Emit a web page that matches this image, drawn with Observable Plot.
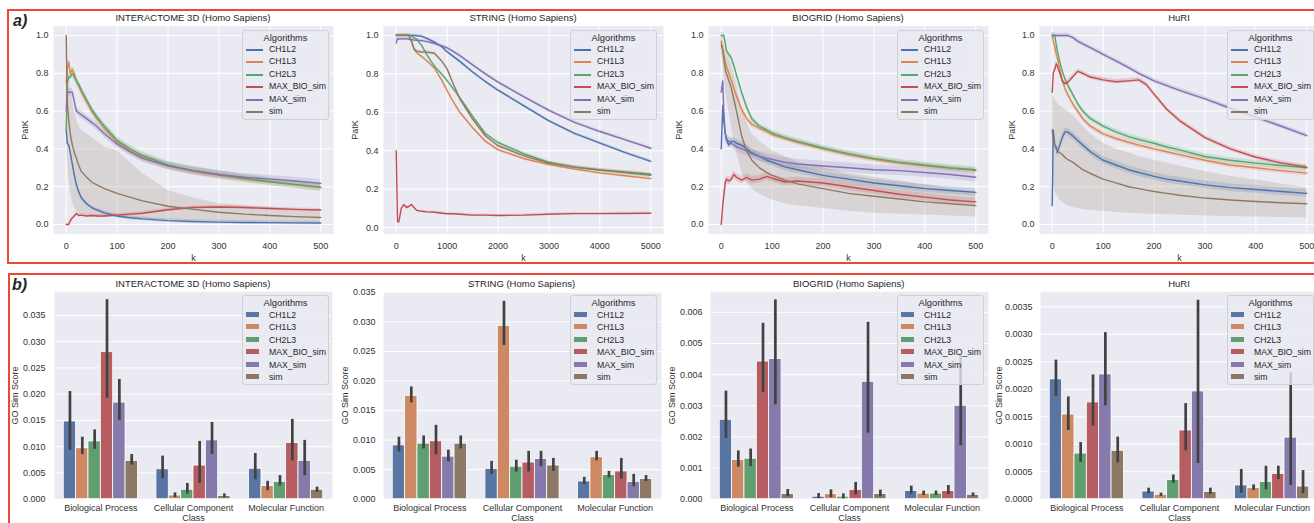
<!DOCTYPE html>
<html><head><meta charset="utf-8">
<script src="https://cdn.jsdelivr.net/npm/d3@7"></script>
<script src="https://cdn.jsdelivr.net/npm/@observablehq/plot@0.6"></script>
<style>
html,body{margin:0;padding:0;background:#fff;}
#root{position:relative;width:1314px;height:523px;overflow:hidden;font-family:"Liberation Sans",Arial,sans-serif;color:#262626;}
.panel{position:absolute;}
.panel svg{overflow:visible;max-width:none;display:block;}
.ttl{position:absolute;font-size:9.5px;text-align:center;white-space:nowrap;transform:translate(-50%,-50%);}
.box{position:absolute;border:2px solid #ea4a35;box-sizing:border-box;}
.tag{position:absolute;font-weight:bold;font-style:italic;font-size:16px;}
.leg{position:absolute;background:rgba(234,234,242,0.8);border:1px solid #cfcfd6;border-radius:3px;box-sizing:border-box;}
.leg .lt{position:absolute;left:0;right:0;text-align:center;font-size:9.3px;line-height:12px;}
.leg .li{position:absolute;left:26px;font-size:8.7px;line-height:12px;white-space:nowrap;}
.leg .lh{position:absolute;}
</style>
</head><body>
<div id="root"></div>
<script>
// ---------- shared ----------
const algorithms = ["CH1L2", "CH1L3", "CH2L3", "MAX_BIO_sim", "MAX_sim", "sim"];
const lineColors = ["#4c72b0", "#dd8452", "#55a868", "#c44e52", "#8172b3", "#937860"];
const barColors = ["#5975a4", "#cc8963", "#5f9e6e", "#b55d60", "#857aab", "#8d7866"];
const datasets = ["INTERACTOME 3D (Homo Sapiens)", "STRING (Homo Sapiens)", "BIOGRID (Homo Sapiens)", "HuRI"];
const categories = ["Biological Process", "Cellular Component", "Molecular Function"];

// ---------- a) PatK curves ----------
const patkYTicks = [0, 0.2, 0.4, 0.6, 0.8, 1.0];
const kTicks500 = [0, 100, 200, 300, 400, 500];
const kTicks5000 = [0, 1000, 2000, 3000, 4000, 5000];

// INTERACTOME 3D
const i3dK = [0,2,5,8,12,16,20,25,30,40,50,60,75,100,125,150,200,250,300,350,400,450,500];
const i3dPatK = [
  [0.5,0.43,0.42,0.38,0.32,0.26,0.21,0.17,0.14,0.11,0.09,0.078,0.062,0.045,0.036,0.03,0.021,0.016,0.013,0.011,0.01,0.009,0.008],
  [0.75,0.82,0.86,0.80,0.82,0.80,0.76,0.73,0.70,0.65,0.60,0.56,0.51,0.435,0.39,0.355,0.31,0.28,0.26,0.24,0.225,0.21,0.195],
  [0.5,0.75,0.78,0.78,0.80,0.78,0.76,0.74,0.71,0.66,0.61,0.57,0.52,0.445,0.40,0.365,0.315,0.285,0.265,0.245,0.228,0.212,0.198],
  [0,0,0,0.02,0.035,0.045,0.058,0.048,0.05,0.045,0.048,0.045,0.045,0.05,0.055,0.06,0.078,0.09,0.093,0.09,0.085,0.08,0.077],
  [0.6,0.7,0.7,0.7,0.7,0.65,0.6,0.59,0.58,0.56,0.54,0.52,0.48,0.425,0.385,0.35,0.31,0.285,0.265,0.25,0.24,0.23,0.218],
  [1.0,0.65,0.55,0.48,0.42,0.38,0.35,0.31,0.28,0.25,0.225,0.21,0.19,0.165,0.145,0.125,0.097,0.08,0.065,0.055,0.048,0.042,0.037]
];
const i3dSimLo = [0.6,0.35,0.25,0.18,0.12,0.09,0.07,0.06,0.055,0.05,0.045,0.04,0.04,0.04,0.035,0.03,0.025,0.02,0.017,0.015,0.013,0.012,0.01];
const i3dSimHi = [1.0,0.9,0.8,0.72,0.66,0.6,0.56,0.52,0.5,0.48,0.46,0.44,0.41,0.39,0.33,0.27,0.18,0.14,0.11,0.1,0.09,0.08,0.07];
const i3dBandHalf = [0.01,0.02,0.02,0.008,0.02,0];

// STRING
const strK = [0,25,50,100,150,200,250,300,350,400,500,600,750,900,1000,1100,1250,1500,1750,2000,2500,3000,3500,4000,4500,5000];
const strPatK = [
  [1,1,1,1,1,1,1,1,1,0.998,0.995,0.985,0.965,0.94,0.915,0.895,0.865,0.81,0.76,0.715,0.635,0.555,0.49,0.44,0.39,0.345],
  [1,1,1,1,1,1,1,0.97,0.93,0.91,0.89,0.868,0.83,0.765,0.713,0.665,0.6,0.52,0.45,0.405,0.36,0.328,0.305,0.285,0.27,0.255],
  [1,1,1,1,1,1,1,0.997,0.988,0.98,0.948,0.9,0.84,0.797,0.765,0.73,0.676,0.58,0.49,0.443,0.385,0.34,0.315,0.3,0.285,0.272],
  [0.4,0.03,0.03,0.1,0.12,0.105,0.11,0.12,0.105,0.09,0.085,0.082,0.08,0.075,0.072,0.072,0.07,0.065,0.065,0.063,0.065,0.07,0.073,0.073,0.074,0.075],
  [0.96,0.985,0.98,0.983,0.983,0.982,0.98,0.978,0.976,0.975,0.973,0.968,0.958,0.945,0.935,0.92,0.895,0.847,0.8,0.757,0.682,0.61,0.548,0.5,0.457,0.413],
  [1,1,1,1,1,1,1,0.97,0.93,0.918,0.913,0.913,0.907,0.865,0.826,0.76,0.67,0.565,0.478,0.426,0.375,0.335,0.315,0.3,0.29,0.278]
];
const strBandHalf = [0.008,0.008,0.008,0.006,0.008,0.008];

// BIOGRID
const bioK = [0,3,5,8,10,15,20,25,30,40,50,60,75,90,100,125,150,200,250,300,350,400,450,500];
const bioPatK = [
  [0.4,0.63,0.55,0.48,0.45,0.42,0.44,0.44,0.43,0.42,0.4,0.38,0.36,0.34,0.33,0.305,0.29,0.26,0.24,0.22,0.205,0.19,0.18,0.17],
  [0.97,0.93,0.9,0.86,0.84,0.8,0.76,0.72,0.68,0.61,0.56,0.53,0.51,0.49,0.475,0.455,0.435,0.4,0.37,0.345,0.325,0.31,0.297,0.285],
  [1.0,1.0,1.0,0.96,0.92,0.9,0.88,0.84,0.79,0.7,0.62,0.56,0.52,0.5,0.485,0.46,0.44,0.405,0.375,0.35,0.33,0.315,0.3,0.29],
  [0,0.1,0.15,0.22,0.24,0.23,0.24,0.265,0.25,0.235,0.25,0.235,0.24,0.255,0.245,0.225,0.23,0.22,0.2,0.18,0.16,0.145,0.13,0.12],
  [0.7,0.76,0.6,0.48,0.46,0.44,0.43,0.42,0.41,0.4,0.39,0.375,0.36,0.35,0.345,0.33,0.32,0.31,0.3,0.29,0.285,0.275,0.265,0.25],
  [0.95,0.92,0.88,0.82,0.8,0.76,0.72,0.66,0.6,0.47,0.39,0.34,0.3,0.275,0.26,0.235,0.215,0.19,0.165,0.15,0.135,0.12,0.11,0.1]
];
const bioSimLo = [0.9,0.85,0.8,0.72,0.68,0.6,0.52,0.45,0.38,0.28,0.22,0.19,0.16,0.14,0.13,0.11,0.1,0.085,0.07,0.06,0.055,0.05,0.045,0.04];
const bioSimHi = [1.0,0.98,0.96,0.92,0.9,0.88,0.85,0.8,0.74,0.62,0.54,0.48,0.44,0.41,0.39,0.36,0.33,0.3,0.27,0.25,0.23,0.21,0.19,0.175];
const bioBandHalf = [0.02,0.015,0.015,0.02,0.025,0];

// HuRI
const huriK = [0,2,5,8,10,15,20,25,30,40,50,60,75,100,125,150,170,185,200,225,250,300,350,400,450,500];
const huriPatK = [
  [0.1,0.5,0.42,0.41,0.38,0.42,0.46,0.49,0.49,0.47,0.445,0.42,0.385,0.34,0.315,0.29,0.275,0.265,0.255,0.24,0.23,0.21,0.195,0.185,0.175,0.165],
  [1.0,0.97,0.94,0.9,0.88,0.82,0.76,0.72,0.69,0.64,0.6,0.56,0.52,0.48,0.455,0.435,0.42,0.41,0.4,0.385,0.37,0.34,0.315,0.3,0.285,0.272],
  [1.0,1.0,1.0,0.95,0.92,0.86,0.81,0.77,0.74,0.69,0.64,0.6,0.56,0.52,0.49,0.465,0.45,0.44,0.43,0.41,0.395,0.36,0.34,0.325,0.312,0.3],
  [0.7,0.8,0.82,0.85,0.84,0.8,0.76,0.745,0.75,0.78,0.81,0.8,0.78,0.765,0.755,0.76,0.765,0.74,0.69,0.61,0.55,0.46,0.4,0.356,0.326,0.303],
  [1,1,1,1,1,1,1,1,1,0.99,0.97,0.955,0.935,0.9,0.865,0.83,0.8,0.78,0.76,0.735,0.71,0.665,0.615,0.568,0.52,0.47],
  [0.5,0.45,0.42,0.4,0.39,0.38,0.37,0.355,0.345,0.33,0.31,0.29,0.27,0.24,0.22,0.2,0.19,0.182,0.175,0.165,0.155,0.14,0.13,0.122,0.115,0.11]
];
const huriSimLo = [0.3,0.22,0.18,0.16,0.15,0.13,0.12,0.11,0.1,0.09,0.085,0.08,0.075,0.07,0.065,0.06,0.058,0.056,0.055,0.052,0.05,0.045,0.042,0.04,0.037,0.035];
const huriSimHi = [0.7,0.68,0.66,0.65,0.64,0.63,0.62,0.61,0.6,0.58,0.55,0.52,0.48,0.43,0.4,0.38,0.36,0.35,0.34,0.325,0.31,0.28,0.255,0.235,0.215,0.195];
const huriBandHalf = [0.02,0.015,0.015,0.012,0.012,0];

// ---------- b) GO Sim Score bars (rows: categories, cols: algorithms) ----------
const i3dGoMean = [[0.0148,0.0097,0.0110,0.0280,0.0184,0.0073],[0.0057,0.0007,0.0018,0.0064,0.0112,0.0006],[0.0058,0.0025,0.0033,0.0107,0.0073,0.0018]];
const i3dGoLo   = [[0.0093,0.0085,0.0095,0.0192,0.0150,0.0065],[0.0039,0.0003,0.0010,0.0030,0.0085,0.0003],[0.0037,0.0016,0.0025,0.0073,0.0045,0.0013]];
const i3dGoHi   = [[0.0205,0.0118,0.0132,0.0380,0.0228,0.0085],[0.0082,0.0012,0.0030,0.0110,0.0146,0.0010],[0.0087,0.0034,0.0045,0.0152,0.0112,0.0023]];
const strGoMean = [[0.0091,0.0175,0.0094,0.0098,0.0072,0.0094],[0.0051,0.0293,0.0055,0.0062,0.0068,0.0057],[0.0030,0.0071,0.0041,0.0047,0.0029,0.0034]];
const strGoLo   = [[0.0080,0.0163,0.0085,0.0075,0.0063,0.0085],[0.0042,0.0260,0.0046,0.0046,0.0055,0.0047],[0.0025,0.0065,0.0036,0.0034,0.0021,0.0030]];
const strGoHi   = [[0.0105,0.0190,0.0107,0.0125,0.0083,0.0107],[0.0064,0.0335,0.0066,0.0081,0.0081,0.0069],[0.0037,0.0081,0.0047,0.0069,0.0042,0.0040]];
const bioGoMean = [[0.00255,0.00126,0.00130,0.00442,0.00450,0.00017],[0.00008,0.00016,0.00008,0.00030,0.00377,0.00017],[0.00026,0.00018,0.00018,0.00026,0.00300,0.00014]];
const bioGoLo   = [[0.00195,0.00103,0.00105,0.00342,0.00303,0.00008],[0.00002,0.00005,0.00001,0.00014,0.00212,0.00008],[0.00016,0.00012,0.00012,0.00015,0.00172,0.00008]];
const bioGoHi   = [[0.00347,0.00155,0.00161,0.00565,0.00640,0.00031],[0.00018,0.00030,0.00017,0.00054,0.00568,0.00029],[0.00042,0.00026,0.00026,0.00044,0.00462,0.00020]];
const huriGoMean = [[0.00218,0.00154,0.00083,0.00176,0.00227,0.00088],[0.00014,0.00008,0.00035,0.00125,0.00196,0.00013],[0.00025,0.00020,0.00031,0.00046,0.00112,0.00023]];
const huriGoLo   = [[0.00187,0.00125,0.00067,0.00133,0.00170,0.00066],[0.00010,0.00005,0.00029,0.00088,0.00065,0.00009],[0.00011,0.00016,0.00017,0.00036,0.00025,0.00010]];
const huriGoHi   = [[0.00253,0.00186,0.00103,0.00226,0.00303,0.00113],[0.00020,0.00011,0.00044,0.00174,0.00362,0.00020],[0.00054,0.00026,0.00060,0.00060,0.00230,0.00052]];
const goTicksA = [0, 0.005, 0.010, 0.015, 0.020, 0.025, 0.030, 0.035];
const goTicksB = [0, 0.001, 0.002, 0.003, 0.004, 0.005, 0.006];
const goTicksC = [0, 0.0005, 0.0010, 0.0015, 0.0020, 0.0025, 0.0030, 0.0035];

// ---------- drawing ----------
const root = document.getElementById("root");
const FONT = '"Liberation Sans", Arial, sans-serif';
function el(tag, cls, css, text) {
  const d = document.createElement(tag);
  if (cls) d.className = cls;
  Object.assign(d.style, css || {});
  if (text != null) d.textContent = text;
  root.appendChild(d);
  return d;
}

// frames around a) and b)
el("div", "box", {left: "7px", top: "9px", width: "1330px", height: "255px"});
el("div", "box", {left: "8px", top: "273px", width: "1330px", height: "270px"});
el("div", "tag", {left: "13px", top: "12px"}, "a)");
el("div", "tag", {left: "12px", top: "276px"}, "b)");

const ML = 62;
function linePanel(frameLeft, frameW, k, vals, simLo, simHi, half, xDomain, xTicks, yDomain, labelOff) {
  const rows = [];
  algorithms.forEach((alg, i) => {
    k.forEach((kk, j) => {
      const v = vals[i][j];
      const lo = (alg === "sim" && simLo) ? simLo[j] : v - half[i];
      const hi = (alg === "sim" && simHi) ? simHi[j] : v + half[i];
      rows.push({alg, k: kk, v, lo, hi});
    });
  });
  const mt = 25.5, fh = 208, mb = 34;
  const svg = Plot.plot({
    width: ML + frameW + 2, height: mt + fh + mb,
    marginLeft: ML, marginRight: 2, marginTop: mt, marginBottom: mb,
    style: {background: "transparent", fontFamily: FONT, fontSize: "9px", color: "#333", overflow: "visible"},
    x: {domain: xDomain},
    y: {domain: yDomain},
    color: {domain: algorithms, range: lineColors},
    marks: [
      Plot.frame({fill: "#eaeaf2", stroke: null}),
      Plot.gridX({ticks: xTicks, stroke: "#fff", strokeOpacity: 1, strokeWidth: 1}),
      Plot.gridY({ticks: patkYTicks, stroke: "#fff", strokeOpacity: 1, strokeWidth: 1}),
      Plot.areaY(rows, {x: "k", y1: "lo", y2: "hi", z: "alg", fill: "alg", fillOpacity: 0.2}),
      Plot.lineY(rows, {x: "k", y: "v", z: "alg", stroke: "alg", strokeWidth: 1.4}),
      Plot.axisX({ticks: xTicks, tickFormat: d3.format("d"), tickSize: 0, tickPadding: 9, label: "k", labelAnchor: "center", labelArrow: "none", labelOffset: 27, fontSize: 9}),
      Plot.axisY({ticks: patkYTicks, tickFormat: d3.format(".1f"), tickSize: 0, tickPadding: 5, label: "PatK", labelAnchor: "center", labelArrow: "none", labelOffset: labelOff, fontSize: 9})
    ]
  });
  const wrap = el("div", "panel", {left: (frameLeft - ML) + "px", top: "0px"});
  wrap.appendChild(svg);
}

function barPanel(frameLeft, frameW, mean, lo, hi, yMax, yTicks, fmt, labelOff, tickPad) {
  const rows = [];
  const w = 0.8 / algorithms.length;
  categories.forEach((c, ci) => algorithms.forEach((alg, ai) => {
    const x1 = ci - 0.4 + ai * w;
    rows.push({alg, x1, x2: x1 + w, xm: x1 + w / 2, v: mean[ci][ai], lo: lo[ci][ai], hi: hi[ci][ai]});
  }));
  const mt = 29.3, fh = 207.4, mb = 34;
  const svg = Plot.plot({
    width: ML + frameW + 2, height: mt + fh + mb,
    marginLeft: ML, marginRight: 2, marginTop: mt, marginBottom: mb,
    style: {background: "transparent", fontFamily: FONT, fontSize: "9px", color: "#333", overflow: "visible"},
    x: {domain: [-0.5, 2.5]},
    y: {domain: [0, yMax]},
    color: {domain: algorithms, range: barColors},
    marks: [
      Plot.frame({fill: "#eaeaf2", stroke: null}),
      Plot.gridY({ticks: yTicks, stroke: "#fff", strokeOpacity: 1, strokeWidth: 1}),
      Plot.rect(rows, {x1: "x1", x2: "x2", y1: () => 0, y2: "v", fill: "alg", stroke: "#fff", strokeWidth: 0.8}),
      Plot.ruleX(rows, {x: "xm", y1: "lo", y2: "hi", stroke: "#424242", strokeWidth: 2.7}),
      Plot.axisX({ticks: [0, 1, 2], tickFormat: i => categories[i], tickSize: 0, tickPadding: 5, label: "Class", labelAnchor: "center", labelArrow: "none", labelOffset: 21.5, fontSize: 9}),
      Plot.axisY({ticks: yTicks, tickFormat: d3.format(fmt), tickSize: 0, tickPadding: tickPad, label: "GO Sim Score", labelAnchor: "center", labelArrow: "none", labelOffset: labelOff, fontSize: 9})
    ]
  });
  const wrap = el("div", "panel", {left: (frameLeft - ML) + "px", top: "262px"});
  wrap.appendChild(svg);
}

function legend(left, top, height, patch) {
  const d = el("div", "leg", {left: left + "px", top: top + "px", width: "87px", height: height + "px"});
  const t = document.createElement("div"); t.className = "lt"; t.style.top = "1px"; t.textContent = "Algorithms"; d.appendChild(t);
  algorithms.forEach((a, i) => {
    const cy = Math.round((patch ? 18.5 : 19) + i * (patch ? 12.5 : 12.4));
    const h = document.createElement("div"); h.className = "lh";
    if (patch) Object.assign(h.style, {left: "3px", width: "13px", height: "5px", top: (cy - 3) + "px", backgroundColor: barColors[i]});
    else Object.assign(h.style, {left: "3px", width: "17px", height: "0px", top: (cy - 1) + "px", borderTop: "2px solid " + lineColors[i]});
    d.appendChild(h);
    const tx = document.createElement("div"); tx.className = "li"; tx.style.top = (cy - 6.5) + "px"; tx.textContent = a; d.appendChild(tx);
  });
}

// a) row
const topFrames = [53, 383, 708, 1039];
const topFW = 280;
linePanel(topFrames[0], topFW, i3dK, i3dPatK, i3dSimLo, i3dSimHi, i3dBandHalf, [-25, 525], kTicks500, [-0.05, 1.05], 32);
linePanel(topFrames[1], topFW, strK, strPatK, null, null, strBandHalf, [-250, 5250], kTicks5000, [-0.033, 1.049], 32);
linePanel(topFrames[2], topFW, bioK, bioPatK, bioSimLo, bioSimHi, bioBandHalf, [-25, 525], kTicks500, [-0.05, 1.05], 33);
linePanel(topFrames[3], topFW, huriK, huriPatK, huriSimLo, huriSimHi, huriBandHalf, [-25, 525], kTicks500, [-0.05, 1.05], 31);

// b) row
const botFrames = [54, 382.5, 709.7, 1040];
const botFW = 278;
barPanel(botFrames[0], botFW, i3dGoMean, i3dGoLo, i3dGoHi, 0.0395, goTicksA, ".3f", 43, 9);
barPanel(botFrames[1], botFW, strGoMean, strGoLo, strGoHi, 0.0351, goTicksA, ".3f", 42, 8);
barPanel(botFrames[2], botFW, bioGoMean, bioGoLo, bioGoHi, 0.00666, goTicksB, ".3f", 42, 8);
barPanel(botFrames[3], botFW, huriGoMean, huriGoLo, huriGoHi, 0.003773, goTicksC, ".4f", 45, 8);

// titles
datasets.forEach((t, i) => {
  el("div", "ttl", {left: (topFrames[i] + topFW / 2) + "px", top: "17.3px"}, t);
  el("div", "ttl", {left: (botFrames[i] + botFW / 2) + "px", top: "282.7px"}, t);
});

// legends
const legLefts = [242, 570, 897, 1227];
legLefts.forEach(l => { legend(l, 29.5, 90, false); legend(l, 295, 90, true); });
</script>
</body></html>
